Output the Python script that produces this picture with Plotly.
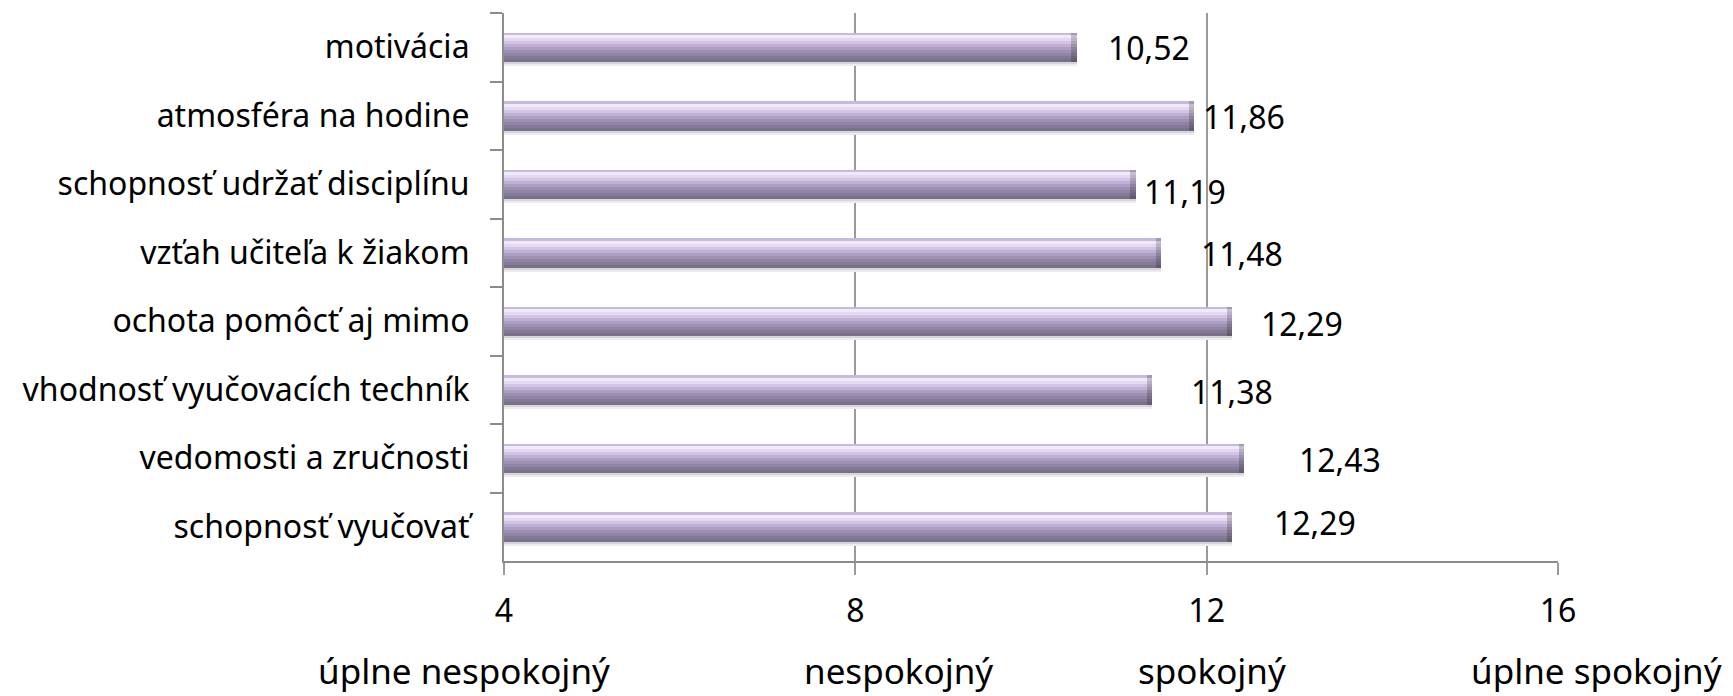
import plotly.graph_objects as go

categories = [
    "motivácia",
    "atmosféra na hodine",
    "schopnosť udržať disciplínu",
    "vzťah učiteľa k žiakom",
    "ochota pomôcť aj mimo",
    "vhodnosť vyučovacích techník",
    "vedomosti a zručnosti",
    "schopnosť vyučovať",
]
values = [10.52, 11.86, 11.19, 11.48, 12.29, 11.38, 12.43, 12.29]
value_labels = ["10,52", "11,86", "11,19", "11,48", "12,29", "11,38", "12,43", "12,29"]
tick_values = [4, 8, 12, 16]
scale_labels = ["úplne nespokojný", "nespokojný", "spokojný", "úplne spokojný"]

# styling (not data)
label_xshift = [72, 50, 49, 81, 70, 80, 96, 83]
label_yshift = [0, -1, -7, -1, -2, -2, -1, 4]
scale_label_x = [-0.038, 0.374, 0.672, 1.037]
band_colors = ["#c8b9de", "#f1eaf8", "#e4d9f0", "#d2c4e4", "#bfb0d4",
               "#ad9fc3", "#9d90b2", "#9084a4", "#847996", "#7a7089"]
FONT = "Noto Sans"
CAP = 0.06  # length of darker rounded end, in axis units


def darker(hexc, f=0.82):
    r, g, b = (int(hexc[i:i + 2], 16) for i in (1, 3, 5))
    return "#%02x%02x%02x" % (int(r * f), int(g * f), int(b * f))


fig = go.Figure()
total_w = 0.43
n = len(band_colors)
w = total_w / n
# shadow below each bar
fig.add_trace(go.Bar(
    y=categories, x=values, orientation="h", width=0.09, offset=total_w / 2 - 0.03,
    marker=dict(color="#ececec", line=dict(width=0)), hoverinfo="skip", showlegend=False,
))
fig.add_trace(go.Bar(
    y=categories, x=values, orientation="h", width=0.05, offset=total_w / 2 - 0.02,
    marker=dict(color="#d6d6d6", line=dict(width=0)), hoverinfo="skip", showlegend=False,
))
for i, c in enumerate(band_colors):
    fig.add_trace(go.Bar(
        y=categories, x=values, orientation="h", width=w * 1.05,
        offset=-total_w / 2 + i * w,
        marker=dict(color=c, line=dict(width=0)), hoverinfo="skip", showlegend=False,
    ))
    # darker bevelled end of each bar
    fig.add_trace(go.Bar(
        y=categories, x=[CAP] * len(values), base=[v - CAP for v in values],
        orientation="h", width=w * 1.05, offset=-total_w / 2 + i * w,
        marker=dict(color=darker(c), line=dict(width=0)), hoverinfo="skip", showlegend=False,
    ))

annotations = []
for cat, v, t, dx, dy in zip(categories, values, value_labels, label_xshift, label_yshift):
    annotations.append(dict(x=v, y=cat, xref="x", yref="y", text=t, showarrow=False,
                            xanchor="center", yanchor="middle", xshift=dx, yshift=dy,
                            font=dict(family=FONT, size=32, color="black")))
for sx, t in zip(scale_label_x, scale_labels):
    annotations.append(dict(x=sx, y=-0.200, xref="paper", yref="paper", text=t,
                            showarrow=False, xanchor="center", yanchor="middle",
                            font=dict(family=FONT, size=35, color="black")))

fig.update_layout(
    width=1733, height=696,
    margin=dict(l=504, r=175, t=13, b=135, autoexpand=False),
    paper_bgcolor="white", plot_bgcolor="white",
    barmode="overlay", bargap=0,
    annotations=annotations,
    xaxis=dict(range=[4, 16], tickvals=tick_values, ticktext=[str(t) for t in tick_values],
               automargin=False,
               showgrid=True, gridcolor="#9a9a9a", gridwidth=1.5, zeroline=False,
               showline=True, linecolor="#8c8c8c", linewidth=2,
               ticks="outside", ticklen=12, tickcolor="#9a9a9a", tickwidth=1.5,
               ticklabelstandoff=9,
               tickfont=dict(family=FONT, size=32, color="black")),
    yaxis=dict(categoryorder="array", categoryarray=categories, autorange="reversed",
               automargin=False,
               showgrid=False, zeroline=False,
               showline=True, linecolor="#8c8c8c", linewidth=2,
               ticks="outside", tickson="boundaries", ticklen=12, tickcolor="#8c8c8c", tickwidth=1.5,
               ticklabelstandoff=26,
               tickfont=dict(family=FONT, size=32, color="black")),
)

fig.write_html("out.html", config={"displayModeBar": False},
               post_script="document.body.style.margin='0';")
